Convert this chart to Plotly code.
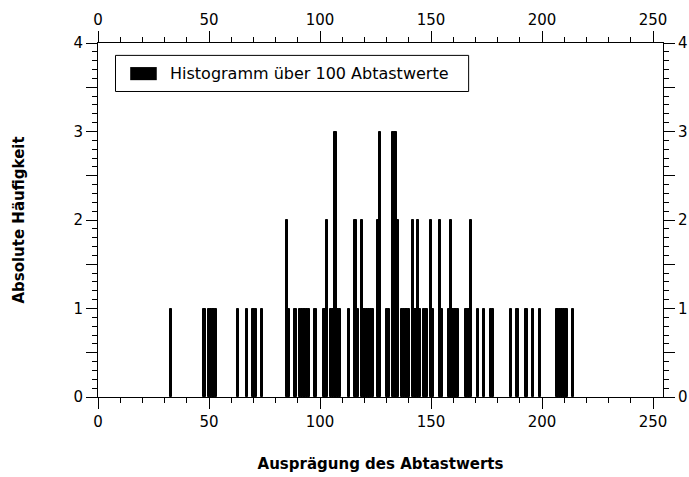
import plotly.graph_objects as go

# Sample values (0..255) and how often each one occurs, 100 samples total
values = [33, 48, 50, 51, 52, 53, 63, 67, 70, 71, 74, 85, 86, 89,
          91, 92, 93, 94, 95, 98, 102, 103, 105, 106, 107, 108, 109,
          113, 116, 117, 119, 120, 121, 122, 123, 124, 126, 127, 130, 131,
          133, 134, 135, 137, 138, 139, 140, 142, 143, 144, 145, 147, 148,
          150, 151, 154, 155, 158, 159, 160, 161, 162, 166, 167, 168, 171,
          174, 177, 178, 186, 189, 193, 196, 199, 207, 208, 209, 210, 211, 214]
counts = [1, 1, 1, 1, 1, 1, 1, 1, 1, 1, 1, 2, 1, 1,
          1, 1, 1, 1, 1, 1, 1, 2, 1, 1, 3, 1, 1,
          1, 2, 1, 2, 1, 1, 1, 1, 1, 2, 3, 1, 1,
          3, 3, 2, 1, 1, 1, 1, 2, 1, 2, 1, 1, 1,
          2, 1, 2, 1, 1, 2, 1, 1, 1, 1, 1, 2, 1,
          1, 1, 1, 1, 1, 1, 1, 1, 1, 1, 1, 1, 1, 1]

x_ticks = [0, 50, 100, 150, 200, 250]
y_ticks = [0, 0.5, 1, 1.5, 2, 2.5, 3, 3.5, 4]
y_labels = ["0", "", "1", "", "2", "", "3", "", "4"]

legend_text = "Histogramm über 100 Abtastwerte"
x_title = "Ausprägung des Abtastwerts"
y_title = "Absolute Häufigkeit"

FONT = "DejaVu Sans"
X_RANGE = [0, 254.5]
Y_RANGE = [0, 4]

fig = go.Figure()
fig.add_trace(go.Bar(
    x=values, y=counts, width=1,
    marker=dict(color="black", line=dict(color="black", width=1)),
    name=legend_text, showlegend=False,
))
# empty trace so the mirrored top/right axes get their own labels
fig.add_trace(go.Scatter(x=[], y=[], xaxis="x2", yaxis="y2",
                         showlegend=False, hoverinfo="skip"))

tick_font = dict(family=FONT, size=15, color="black")

common_x = dict(range=X_RANGE, autorange=False, tickvals=x_ticks,
                ticks="outside", ticklen=11, tickwidth=1, tickcolor="black",
                showline=True, linecolor="black", linewidth=1,
                showgrid=False, zeroline=False, tickfont=tick_font,
                automargin=False,
                minor=dict(dtick=10, tick0=0, ticks="outside", ticklen=5,
                           tickwidth=1, tickcolor="black", showgrid=False))
common_y = dict(range=Y_RANGE, autorange=False, tickvals=y_ticks,
                ticktext=y_labels,
                ticks="outside", ticklen=11, tickwidth=1, tickcolor="black",
                showline=True, linecolor="black", linewidth=1,
                showgrid=False, zeroline=False, tickfont=tick_font,
                automargin=False,
                minor=dict(dtick=0.1, tick0=0, ticks="outside", ticklen=5,
                           tickwidth=1, tickcolor="black", showgrid=False))

fig.update_layout(
    width=689, height=477,
    margin=dict(l=98, r=26, t=43, b=80),
    paper_bgcolor="white", plot_bgcolor="white",
    font=dict(family=FONT, color="black"),
    bargap=0,
    xaxis=dict(**common_x, side="bottom",
               title=dict(text="<b>" + x_title + "</b>",
                          font=dict(family=FONT, size=15), standoff=28)),
    yaxis=dict(**common_y, side="left",
               title=dict(text="<b>" + y_title + "</b>",
                          font=dict(family=FONT, size=15), standoff=45)),
    xaxis2=dict(**common_x, side="top", overlaying="x", anchor="y2"),
    yaxis2=dict(**common_y, side="right", overlaying="y", anchor="x2"),
    showlegend=False,
)

# legend box: frame, swatch and label
fig.add_shape(type="rect", xref="paper", yref="paper",
              x0=0.031, x1=0.656, y0=0.863, y1=0.965,
              line=dict(color="black", width=1), fillcolor="white")
fig.add_shape(type="rect", xref="paper", yref="paper",
              x0=0.057, x1=0.104, y0=0.895, y1=0.932,
              line=dict(width=0), fillcolor="black")
fig.add_annotation(xref="paper", yref="paper", x=0.124, y=0.914,
                   xanchor="left", yanchor="middle", showarrow=False,
                   text=legend_text,
                   font=dict(family=FONT, size=16, color="black"))

fig.write_html("out.html")
